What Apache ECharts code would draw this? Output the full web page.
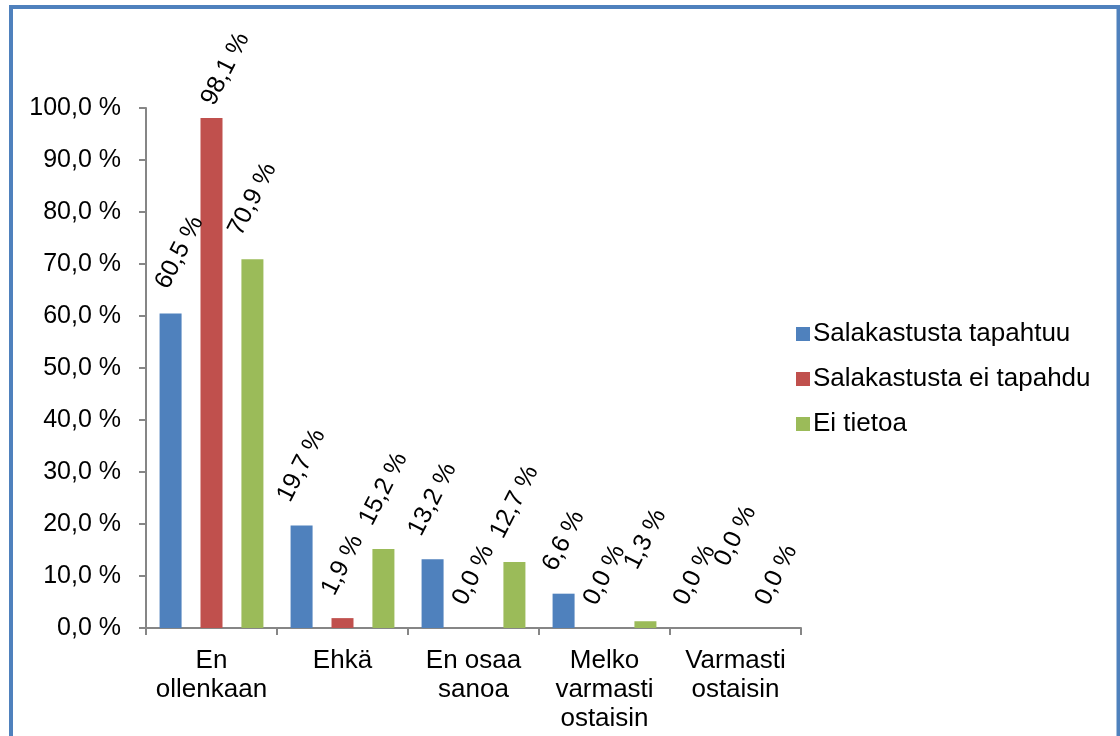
<!DOCTYPE html>
<html>
<head>
<meta charset="utf-8">
<title>Salakastus</title>
<script src="https://cdn.jsdelivr.net/npm/echarts@6/dist/echarts.min.js"></script>
<style>
  html, body { margin: 0; padding: 0; background: #fff; }
  #chart { width: 1120px; height: 736px; }
</style>
</head>
<body>
<div id="chart"></div>
<script>
// Survey answers per category
const categories = ['En\nollenkaan', 'Ehkä', 'En osaa\nsanoa', 'Melko\nvarmasti\nostaisin', 'Varmasti\nostaisin'];
const seriesNames = ['Salakastusta tapahtuu', 'Salakastusta ei tapahdu', 'Ei tietoa'];
const tapahtuu = [60.5, 19.7, 13.2, 6.6, 0.0];
const eiTapahdu = [98.1, 1.9, 0.0, 0.0, 0.0];
const eiTietoa = [70.9, 15.2, 12.7, 1.3, 0.0];
const yTicks = [0, 10, 20, 30, 40, 50, 60, 70, 80, 90, 100];

const colors = ['#4F81BD', '#C0504D', '#9BBB59'];
const FONT = '"Liberation Sans", Arial, sans-serif';
const BAR_WIDTH = 22;

const pct = v => v.toFixed(1).replace('.', ',') + ' %';

// Placement of the rotated value labels: [shift right, height of label centre above bar top].
// Most follow the default; a few are nudged to stay clear of neighbours and the top edge.
const labelNudges = { '0-0': [9, 61], '1-0': [14, 49], '1-4': [0, 92], '2-3': [0, 82] };
function labelPosition(s, i, v) {
  const nudge = labelNudges[s + '-' + i];
  const dx = nudge ? nudge[0] : 0;
  const dy = nudge ? nudge[1] : (pct(v).length > 5 ? 60 : 53);
  return [BAR_WIDTH / 2 + dx, -dy];
}

const values = [tapahtuu, eiTapahdu, eiTietoa];

const series = values.map((arr, s) => ({
  name: seriesNames[s],
  type: 'bar',
  barWidth: BAR_WIDTH,
  barGap: '86%',
  itemStyle: { color: colors[s] },
  data: arr.map((v, i) => ({
    value: v,
    label: { position: labelPosition(s, i, v) }
  })),
  label: {
    show: true,
    rotate: 63,
    align: 'center',
    verticalAlign: 'middle',
    color: '#000',
    fontFamily: FONT,
    fontSize: 25,
    formatter: p => pct(p.value)
  }
}));

const chart = echarts.init(document.getElementById('chart'), null, { renderer: 'canvas' });
chart.setOption({
  animation: false,
  backgroundColor: '#fff',
  graphic: [{
    type: 'rect',
    shape: { x: 11, y: 7, width: 1107.5, height: 760 },
    style: { fill: 'none', stroke: '#4F81BD', lineWidth: 4 },
    silent: true,
    z: 100
  }],
  grid: { left: 146, right: 319, top: 108, bottom: 108, containLabel: false },
  legend: {
    orient: 'vertical',
    left: 791,
    top: 316,
    itemWidth: 14,
    itemHeight: 14,
    itemGap: 19,
    icon: 'rect',
    textStyle: { fontFamily: FONT, fontSize: 26, lineHeight: 26, color: '#000', padding: [0, 0, 0, -2] },
    data: seriesNames
  },
  xAxis: {
    type: 'category',
    data: categories,
    axisLine: { lineStyle: { color: '#868686', width: 2 } },
    axisTick: { show: true, length: 7, lineStyle: { color: '#868686', width: 2 } },
    axisLabel: {
      interval: 0,
      margin: 18,
      color: '#000',
      fontFamily: FONT,
      fontSize: 26,
      lineHeight: 29,
      align: 'center'
    }
  },
  yAxis: {
    type: 'value',
    min: yTicks[0],
    max: yTicks[yTicks.length - 1],
    interval: yTicks[1] - yTicks[0],
    axisLine: { show: true, lineStyle: { color: '#868686', width: 2 } },
    axisTick: { show: true, length: 7, lineStyle: { color: '#868686', width: 2 } },
    splitLine: { show: false },
    axisLabel: {
      margin: 25,
      color: '#000',
      fontFamily: FONT,
      fontSize: 25,
      formatter: v => pct(v)
    }
  },
  series: series
});
</script>
</body>
</html>
